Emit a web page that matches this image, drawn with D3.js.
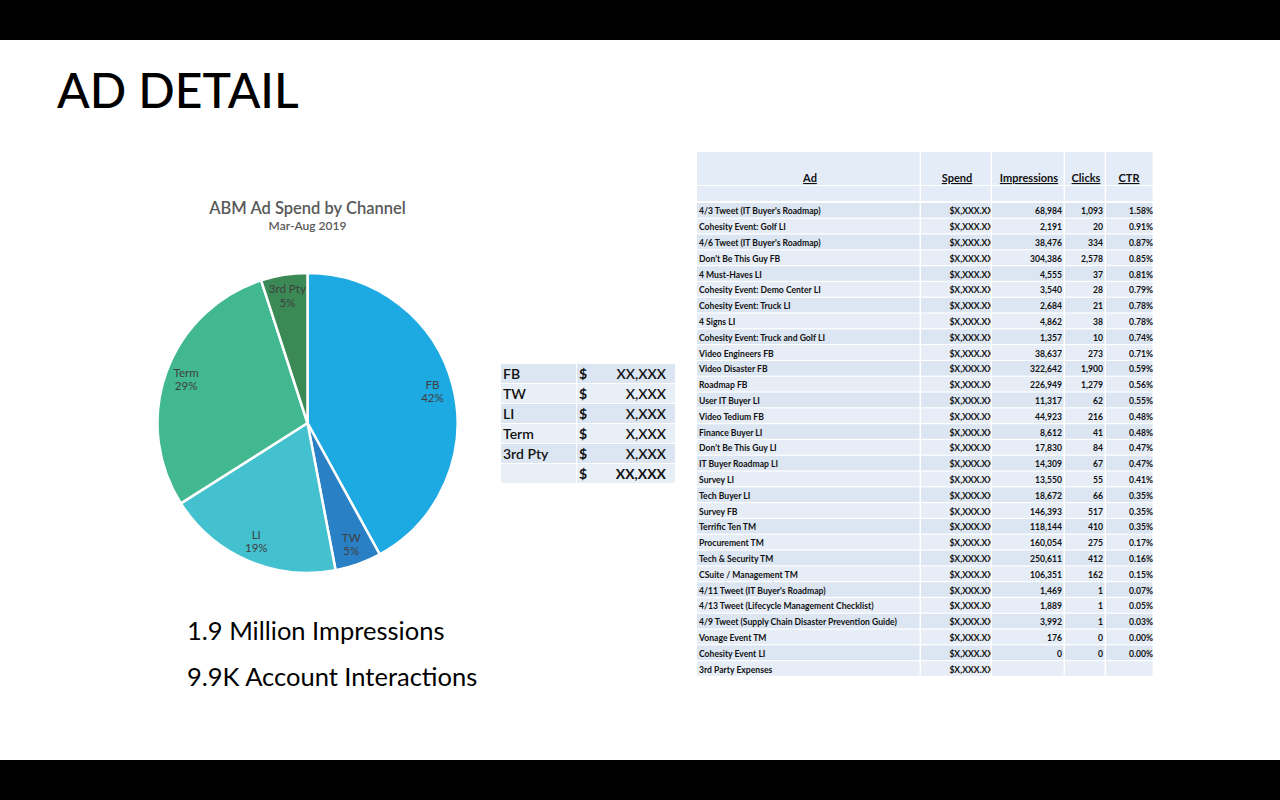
<!DOCTYPE html>
<html><head><meta charset="utf-8">
<script src="https://cdn.jsdelivr.net/npm/d3@7"></script>
<style>
html,body{margin:0;padding:0;background:#fff;}
svg{display:block;font-family:Lato,"Open Sans",sans-serif;}
</style></head>
<body>
<svg id="c" width="1280" height="800"></svg>
<script>
// ---- Data ----
const channels = ["FB","TW","LI","Term","3rd Pty"];
const channelShare = [42,5,19,29,5];
const channelColors = ["#1DA9E1","#2A80C4","#43C1CE","#41B890","#3B8A55"];
const channelAmounts = ["XX,XXX","X,XXX","X,XXX","X,XXX","X,XXX"];
const channelTotal = "XX,XXX";

const adNames = ["4/3 Tweet (IT Buyer's Roadmap)","Cohesity Event: Golf LI","4/6 Tweet (IT Buyer's Roadmap)","Don't Be This Guy FB","4 Must-Haves LI","Cohesity Event: Demo Center LI","Cohesity Event: Truck LI","4 Signs LI","Cohesity Event: Truck and Golf LI","Video Engineers FB","Video Disaster FB","Roadmap FB","User IT Buyer LI","Video Tedium FB","Finance Buyer LI","Don't Be This Guy LI","IT Buyer Roadmap LI","Survey LI","Tech Buyer LI","Survey FB","Terrific Ten TM","Procurement TM","Tech & Security TM","CSuite / Management TM","4/11 Tweet (IT Buyer's Roadmap)","4/13 Tweet (Lifecycle Management Checklist)","4/9 Tweet (Supply Chain Disaster Prevention Guide)","Vonage Event TM","Cohesity Event LI","3rd Party Expenses"];
const adSpend = adNames.map(() => "$X,XXX.XX");
const adImpressions = ["68,984","2,191","38,476","304,386","4,555","3,540","2,684","4,862","1,357","38,637","322,642","226,949","11,317","44,923","8,612","17,830","14,309","13,550","18,672","146,393","118,144","160,054","250,611","106,351","1,469","1,889","3,992","176","0",""];
const adClicks = ["1,093","20","334","2,578","37","28","21","38","10","273","1,900","1,279","62","216","41","84","67","55","66","517","410","275","412","162","1","1","1","0","0",""];
const adCTR = ["1.58%","0.91%","0.87%","0.85%","0.81%","0.79%","0.78%","0.78%","0.74%","0.71%","0.59%","0.56%","0.55%","0.48%","0.48%","0.47%","0.47%","0.41%","0.35%","0.35%","0.35%","0.17%","0.16%","0.15%","0.07%","0.05%","0.03%","0.00%","0.00%",""];
const tableHeaders = ["Ad","Spend","Impressions","Clicks","CTR"];

const svg = d3.select("#c");

// frame bars
svg.append("rect").attr("x",0).attr("y",0).attr("width",1280).attr("height",40).attr("fill","#000");
svg.append("rect").attr("x",0).attr("y",760).attr("width",1280).attr("height",40).attr("fill","#000");

svg.append("text").attr("x",57).attr("y",108).attr("font-size",48).attr("fill","#000")
  .attr("font-weight",500).text("AD DETAIL");

// ---- Pie ----
const cx = 307.5, cy = 423, R = 150;
svg.append("text").attr("x",cx).attr("y",214).attr("text-anchor","middle").attr("font-size",16.5)
  .attr("font-weight",600).attr("fill","#595959").text("ABM Ad Spend by Channel");
svg.append("text").attr("x",cx).attr("y",230).attr("text-anchor","middle").attr("font-size",12)
  .attr("font-weight",600).attr("fill","#595959").text("Mar-Aug 2019");

const pieData = channels.map((c,i)=>({name:c, value:channelShare[i], color:channelColors[i]}));
const pie = d3.pie().value(d=>d.value).sort(null);
const arc = d3.arc().innerRadius(0).outerRadius(R);
const labelArc = d3.arc().innerRadius(R*0.86).outerRadius(R*0.86);
const g = svg.append("g").attr("transform",`translate(${cx},${cy})`);
const arcs = pie(pieData);
g.selectAll("path").data(arcs).join("path")
  .attr("d",arc).attr("fill",d=>d.data.color).attr("stroke","#fff").attr("stroke-width",2.5);
const lab = g.selectAll("text.l").data(arcs).join("text").attr("class","l")
  .attr("transform",d=>`translate(${labelArc.centroid(d)})`)
  .attr("text-anchor","middle").attr("font-size",11.5).attr("fill","#404040");
lab.append("tspan").attr("x",0).attr("dy","-0.2em").text(d=>d.data.name);
lab.append("tspan").attr("x",0).attr("dy","1.15em").text(d=>d.data.value+"%");

// ---- Small table ----
const st = svg.append("g");
const stRowsLabels = channels.concat([""]);
const stRowsAmts = channelAmounts.concat([channelTotal]);
const sy = d3.scaleBand().domain(d3.range(stRowsLabels.length)).range([364,484]).paddingInner(0);
const stColX = [501,577], stColW = [75,98];
stRowsLabels.forEach((lbl,i)=>{
  const y = sy(i), h = sy.bandwidth();
  const fill = i%2===0 ? "#DCE6F2" : "#E9EFF7";
  st.append("rect").attr("x",stColX[0]).attr("y",y).attr("width",stColW[0]).attr("height",h-1).attr("fill",fill);
  st.append("rect").attr("x",stColX[1]).attr("y",y).attr("width",stColW[1]).attr("height",h-1).attr("fill",fill);
  const ty = y + h/2 + 5;
  const bold = i===stRowsLabels.length-1 ? 700 : 600;
  st.append("text").attr("x",503).attr("y",ty).attr("font-size",14).attr("font-weight",600).attr("fill","#111").text(lbl);
  st.append("text").attr("x",579).attr("y",ty).attr("font-size",14).attr("font-weight",700).attr("fill","#111").text("$");
  st.append("text").attr("x",666).attr("y",ty).attr("text-anchor","end").attr("font-size",14).attr("font-weight",bold).attr("fill","#111").text(stRowsAmts[i]);
});

// ---- Big table ----
const bt = svg.append("g");
const colEdges = [697,921,992,1065,1106,1154];
const hdrTop = 152, hdrBot = 186, blankBot = 202, tableBot = 677;
const ry = d3.scaleBand().domain(d3.range(adNames.length)).range([blankBot+1, tableBot]);
function cellBg(y,h,fill){
  for(let c=0;c<5;c++){
    bt.append("rect").attr("x",colEdges[c]).attr("y",y).attr("width",colEdges[c+1]-colEdges[c]-1.5)
      .attr("height",h).attr("fill",fill);
  }
}
cellBg(hdrTop, hdrBot-hdrTop-1, "#E4ECF7");
cellBg(hdrBot, blankBot-hdrBot-1, "#E4ECF7");
adNames.forEach((n,i)=>{ cellBg(ry(i), ry.bandwidth()-1.2, i%2===0 ? "#DCE6F2" : "#E6EDF7"); });

const hdrX = [810,957,1029,1086,1129];
tableHeaders.forEach((h,i)=>{
  bt.append("text").attr("x",hdrX[i]).attr("y",182).attr("text-anchor","middle")
    .attr("font-size",11).attr("font-weight",700).attr("fill","#111")
    .attr("text-decoration","underline").text(h);
});

// clip for spend column
svg.append("defs").append("clipPath").attr("id","spendClip").append("rect")
  .attr("x",colEdges[1]).attr("y",hdrTop).attr("width",colEdges[2]-colEdges[1]-1.5).attr("height",tableBot-hdrTop);

const rowText = (i)=> ry(i) + ry.bandwidth()/2 + 3.5;
const fs = 8.6;
bt.selectAll("text.ad").data(adNames).join("text").attr("class","ad")
  .attr("x",699).attr("y",(d,i)=>rowText(i)).attr("font-size",fs).attr("font-weight",700).attr("fill","#111").text(d=>d);
bt.append("g").attr("clip-path","url(#spendClip)").selectAll("text").data(adSpend).join("text")
  .attr("x",993).attr("y",(d,i)=>rowText(i)).attr("text-anchor","end").attr("font-size",fs).attr("font-weight",700).attr("fill","#111").text(d=>d);
bt.selectAll("text.im").data(adImpressions).join("text").attr("class","im")
  .attr("x",1062).attr("y",(d,i)=>rowText(i)).attr("text-anchor","end").attr("font-size",fs).attr("font-weight",700).attr("fill","#111").text(d=>d);
bt.selectAll("text.cl").data(adClicks).join("text").attr("class","cl")
  .attr("x",1103).attr("y",(d,i)=>rowText(i)).attr("text-anchor","end").attr("font-size",fs).attr("font-weight",700).attr("fill","#111").text(d=>d);
bt.selectAll("text.ct").data(adCTR).join("text").attr("class","ct")
  .attr("x",1153).attr("y",(d,i)=>rowText(i)).attr("text-anchor","end").attr("font-size",fs).attr("font-weight",700).attr("fill","#111").text(d=>d);

// ---- Summary text ----
svg.append("text").attr("x",187).attr("y",640).attr("font-size",25.5).attr("fill","#000").text("1.9 Million Impressions");
svg.append("text").attr("x",187).attr("y",686).attr("font-size",25.5).attr("fill","#000").text("9.9K Account Interactions");
</script>
</body></html>
